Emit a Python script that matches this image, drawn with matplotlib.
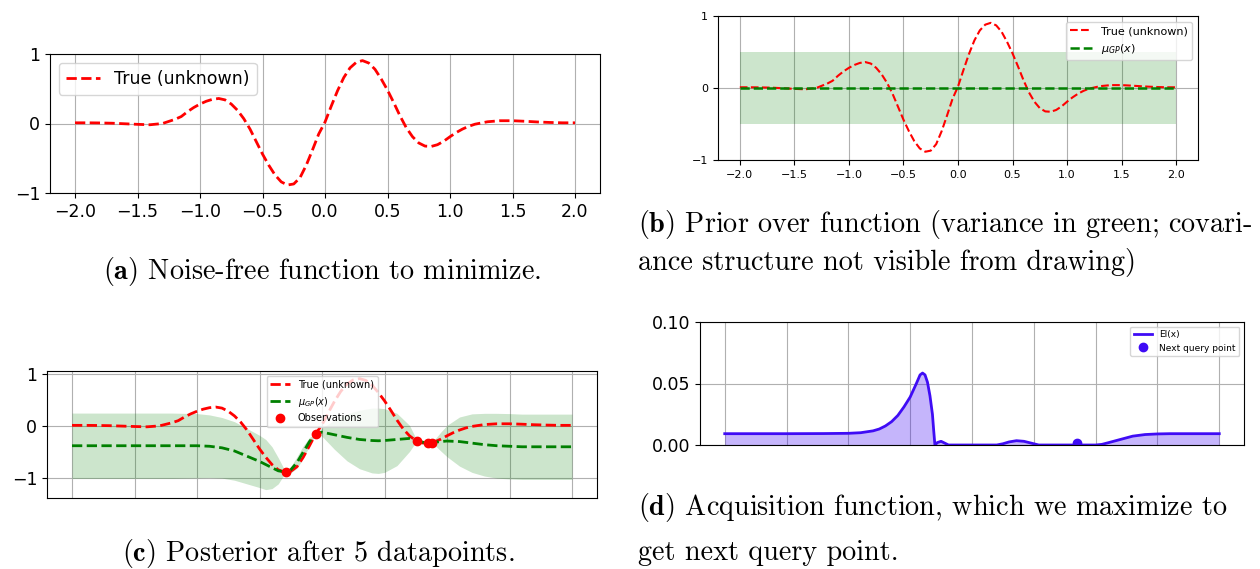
import numpy as np
import matplotlib
matplotlib.use("Agg")
import matplotlib.pyplot as plt

# true (unknown) objective, read along x
x_true = [-2.0, -1.9, -1.8, -1.7, -1.6, -1.5, -1.4, -1.3, -1.2, -1.15, -1.1, -1.05,
          -1.0, -0.95, -0.9, -0.85, -0.8, -0.75, -0.7, -0.65, -0.6, -0.55, -0.5,
          -0.45, -0.4, -0.35, -0.3, -0.25, -0.2, -0.15, -0.1, -0.05, 0.0, 0.05,
          0.1, 0.15, 0.2, 0.25, 0.3, 0.35, 0.4, 0.45, 0.5, 0.55, 0.6, 0.65, 0.7,
          0.75, 0.8, 0.85, 0.9, 0.95, 1.0, 1.05, 1.1, 1.15, 1.2, 1.3, 1.4, 1.5,
          1.6, 1.7, 1.8, 1.9, 2.0]
y_true = [0.01, 0.01, 0.008, 0.004, -0.004, -0.012, -0.018, 0.0, 0.06, 0.1, 0.17, 0.23,
          0.28, 0.32, 0.348, 0.36, 0.34, 0.28, 0.19, 0.07, -0.08, -0.26, -0.44,
          -0.6, -0.74, -0.84, -0.885, -0.87, -0.78, -0.6, -0.38, -0.15, 0.02, 0.25,
          0.47, 0.66, 0.8, 0.88, 0.905, 0.87, 0.78, 0.64, 0.48, 0.3, 0.11, -0.06, -0.19,
          -0.28, -0.325, -0.33, -0.305, -0.255, -0.19, -0.13, -0.08, -0.04, -0.01, 0.025, 0.04, 0.04,
          0.032, 0.022, 0.015, 0.01, 0.01]

# prior: zero mean, constant band
prior_x = [-2.0, 2.0]
prior_mean = [0.0, 0.0]
prior_sd = [0.5, 0.5]

# posterior after five observations
post_x = [-2.0, -1.5, -1.2, -1.1, -1.0, -0.9, -0.8, -0.7, -0.6, -0.5, -0.45, -0.4,
          -0.35, -0.29, -0.25, -0.2, -0.15, -0.1, -0.05, 0.0, 0.1, 0.2, 0.3, 0.4,
          0.45, 0.5, 0.6, 0.7, 0.76, 0.8, 0.85, 0.88, 0.95, 1.0, 1.1, 1.2, 1.3,
          1.4, 1.5, 1.6, 2.0]
post_mean = [-0.38, -0.38, -0.38, -0.38, -0.38, -0.39, -0.42, -0.48, -0.58, -0.68, -0.74, -0.8,
             -0.86, -0.885, -0.84, -0.7, -0.5, -0.3, -0.15, -0.12, -0.17, -0.22, -0.26, -0.28,
             -0.285, -0.28, -0.26, -0.24, -0.28, -0.31, -0.33, -0.32, -0.3, -0.29, -0.3, -0.33, -0.36,
             -0.38, -0.39, -0.4, -0.4]
post_sd = [0.625, 0.625, 0.625, 0.62, 0.615, 0.6, 0.58, 0.56, 0.53, 0.5, 0.48, 0.4,
           0.25, 0.0, 0.06, 0.11, 0.12, 0.08, 0.0, 0.08, 0.28, 0.45, 0.56, 0.62,
           0.625, 0.61, 0.5, 0.25, 0.0, 0.04, 0.0, 0.0, 0.18, 0.3, 0.47, 0.56, 0.6,
           0.62, 0.625, 0.625, 0.625]
obs_x = [-0.29, -0.05, 0.76, 0.85, 0.88]
obs_y = [-0.885, -0.15, -0.28, -0.33, -0.32]

# expected improvement
ei_x = [-2.0, -1.5, -1.2, -1.0, -0.9, -0.8, -0.75, -0.7, -0.65, -0.6, -0.55, -0.5,
        -0.45, -0.42, -0.4, -0.38, -0.36, -0.34, -0.32, -0.31, -0.3, -0.28, -0.25,
        -0.22, -0.19, 0.2, 0.25, 0.3, 0.36, 0.42, 0.48, 0.54, 1.0, 1.05, 1.1, 1.2,
        1.3, 1.4, 1.5, 1.6, 2.0]
ei_y = [0.0092, 0.0092, 0.0093, 0.0095, 0.01, 0.0115, 0.013, 0.0155, 0.019, 0.024, 0.031, 0.039,
        0.05, 0.057, 0.0585, 0.057, 0.051, 0.04, 0.025, 0.012, 0.0, 0.002, 0.003,
        0.0015, 0.0, 0.0, 0.001, 0.0025, 0.0035, 0.003, 0.0015, 0.0, 0.0, 0.0005, 0.0018, 0.0045,
        0.0072, 0.0085, 0.009, 0.0092, 0.0092]
next_x = [0.85]
next_y = [0.0015]

W, H = 1260, 569
fig = plt.figure(figsize=(W / 100, H / 100), dpi=100)


def box(l, r, t, b):
    return [l / W, 1 - b / H, (r - l) / W, (b - t) / H]


def style(ax, size):
    ax.grid(True, color='#b0b0b0', lw=0.8)
    ax.set_axisbelow(True)
    ax.tick_params(labelsize=size)
    ax.set_xlim(-2.2, 2.2)


# (a) noise-free function
ax = fig.add_axes(box(50, 600, 54, 193))
ax.plot(x_true, y_true, 'r--', lw=2, label='True (unknown)')
ax.set_ylim(-1, 1)
ax.set_yticks([-1, 0, 1])
ax.set_xticks(np.arange(-2, 2.01, 0.5))
style(ax, 12.5)
ax.legend(loc='upper left', fontsize=12.5)

# (b) prior
ax = fig.add_axes(box(718, 1198, 16, 160))
pm, ps = np.array(prior_mean), np.array(prior_sd)
ax.fill_between(prior_x, pm - ps, pm + ps, color='g', alpha=0.2, lw=0)
ax.plot(x_true, y_true, 'r--', lw=1.5, label='True (unknown)')
ax.plot(prior_x, prior_mean, 'g--', lw=1.8, label=r'$\mu_{GP}(x)$')
ax.set_ylim(-1, 1)
ax.set_yticks([-1, 0, 1])
ax.set_xticks(np.arange(-2, 2.01, 0.5))
style(ax, 8)
ax.legend(loc='upper right', fontsize=8)

# (c) posterior
ax = fig.add_axes(box(47, 597, 371, 498))
pm, ps = np.array(post_mean), np.array(post_sd)
ax.fill_between(post_x, pm - ps, pm + ps, color='g', alpha=0.2, lw=0)
ax.plot(x_true, y_true, 'r--', lw=2, label='True (unknown)')
ax.plot(post_x, post_mean, 'g--', lw=2, label=r'$\mu_{GP}(x)$')
ax.plot(obs_x, obs_y, 'ro', ms=6, label='Observations')
ax.set_ylim(-1.38, 1.05)
ax.set_yticks([-1, 0, 1])
ax.set_xticks(np.arange(-2, 2.01, 0.5))
ax.set_xticklabels([])
ax.tick_params(axis='x', length=0)
style(ax, 12.5)
ax.legend(loc='upper center', fontsize=7, bbox_to_anchor=(0.5, 1.0))

# (d) acquisition function
ax = fig.add_axes(box(700, 1244, 322, 445))
ax.fill_between(ei_x, 0, ei_y, color='#3f0cf5', alpha=0.3, lw=0)
ax.plot(ei_x, ei_y, color='#3f0cf5', lw=2, label='EI(x)')
ax.plot(next_x, next_y, 'o', color='#3f0cf5', ms=6, label='Next query point')
ax.set_ylim(0, 0.1)
ax.set_yticks([0, 0.05, 0.1])
ax.set_xticks(np.arange(-2, 2.01, 0.5))
ax.set_xticklabels([])
ax.tick_params(axis='x', length=0)
style(ax, 12.5)
ax.legend(loc='upper right', fontsize=6.5)

# captions
cap = dict(fontfamily='cmr10', math_fontfamily='cm', fontsize=20.3, va='center')
fig.text(322 / W, 1 - 272 / H, r'$\mathbf{(a)}$ Noise-free function to minimize.', ha='center', **cap)
fig.text(638 / W, 1 - 225 / H, r'$\mathbf{(b)}$ Prior over function (variance in green; covari-', ha='left', **cap)
fig.text(638 / W, 1 - 262 / H, 'ance structure not visible from drawing)', ha='left', **cap)
fig.text(318 / W, 1 - 553 / H, r'$\mathbf{(c)}$ Posterior after 5 datapoints.', ha='center', **cap)
fig.text(638 / W, 1 - 507 / H, r'$\mathbf{(d)}$ Acquisition function, which we maximize to', ha='left', **cap)
fig.text(638 / W, 1 - 553 / H, 'get next query point.', ha='left', **cap)

fig.savefig('out.png', dpi=100)
